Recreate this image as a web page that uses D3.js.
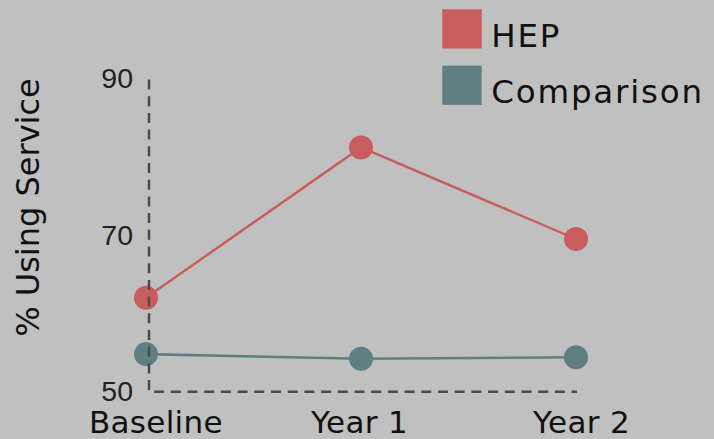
<!DOCTYPE html>
<html>
<head>
<meta charset="utf-8">
<script src="https://cdn.jsdelivr.net/npm/d3@7"></script>
<style>
  html, body { margin: 0; padding: 0; background: #c0c0c0; }
  svg { display: block; }
</style>
</head>
<body>
<svg id="chart" width="714" height="439"></svg>
<script>
// Survey periods and share of respondents using the service (%)
const periods = ["Baseline", "Year 1", "Year 2"];
const hepValues = [62.0, 81.2, 69.5];
const comparisonValues = [54.8, 54.2, 54.4];
const seriesNames = ["HEP", "Comparison"];
const yTicks = [50, 70, 90];

const colors = { HEP: "#c95c5c", Comparison: "#5f7f83" };

const svg = d3.select("#chart");
svg.append("rect").attr("width", 714).attr("height", 439).attr("fill", "#c0c0c0");

const x = d3.scalePoint().domain(periods).range([146, 576]);
const y = d3.scaleLinear().domain([50, 90]).range([391.7, 78.5]);
// labels sit left-aligned on an evenly spaced track under the plot
const xLabel = d3.scalePoint().domain(periods).range([89, 533]);

const series = [
  { name: "HEP", values: hepValues },
  { name: "Comparison", values: comparisonValues }
];

const line = d3.line()
  .x((d, i) => x(periods[i]))
  .y(d => y(d));

const plot = svg.append("g");

series.forEach(s => {
  plot.append("path")
    .datum(s.values)
    .attr("fill", "none")
    .attr("stroke", colors[s.name])
    .attr("stroke-width", s.name === "HEP" ? 2.4 : 2.6)
    .attr("d", line);
});

series.forEach(s => {
  plot.selectAll(null)
    .data(s.values)
    .join("circle")
    .attr("cx", (d, i) => x(periods[i]))
    .attr("cy", d => y(d))
    .attr("r", 12)
    .attr("fill", colors[s.name]);
});

// dashed L-shaped frame on top of the markers
const x0 = 149, x1 = 577;
svg.append("path")
  .attr("d", `M${x0},${y(90) + 1}V${y(50)}H${x1}`)
  .attr("fill", "none")
  .attr("stroke", "#4a4a4a")
  .attr("stroke-width", 2.5)
  .attr("stroke-dasharray", "10,6.7");

// y axis tick labels
const yAxis = svg.append("g")
  .attr("transform", `translate(${x0},0)`)
  .call(d3.axisLeft(y).tickValues(yTicks).tickSize(0).tickPadding(16).tickFormat(d3.format("d")));
yAxis.select(".domain").remove();
yAxis.selectAll("text")
  .attr("font-family", "'Liberation Sans', Arial, sans-serif")
  .attr("font-size", 28.5)
  .attr("fill", "#222");

// y axis title
svg.append("text")
  .attr("transform", `translate(38.5,${207.5}) rotate(-90)`)
  .attr("text-anchor", "middle")
  .attr("font-family", "'DejaVu Sans', sans-serif")
  .attr("font-size", 32)
  .attr("fill", "#111")
  .text("% Using Service");

// period labels
svg.append("g").selectAll("text")
  .data(periods)
  .join("text")
  .attr("x", d => xLabel(d))
  .attr("y", 432.5)
  .attr("font-family", "'DejaVu Sans', sans-serif")
  .attr("font-size", 31)
  .attr("letter-spacing", 0.3)
  .attr("fill", "#111")
  .text(d => d);

// legend
const legend = svg.append("g").attr("transform", "translate(442.3,9.3)");
const legendItem = legend.selectAll("g")
  .data(seriesNames)
  .join("g")
  .attr("transform", (d, i) => `translate(0,${i * 56.4})`);
legendItem.append("rect")
  .attr("width", 39.4)
  .attr("height", 39.2)
  .attr("fill", d => colors[d]);
legendItem.append("text")
  .attr("x", 49)
  .attr("y", 37.6)
  .attr("font-family", "'DejaVu Sans', sans-serif")
  .attr("font-size", 32.5)
  .attr("letter-spacing", 1.8)
  .attr("fill", "#111")
  .text(d => d);
</script>
</body>
</html>
